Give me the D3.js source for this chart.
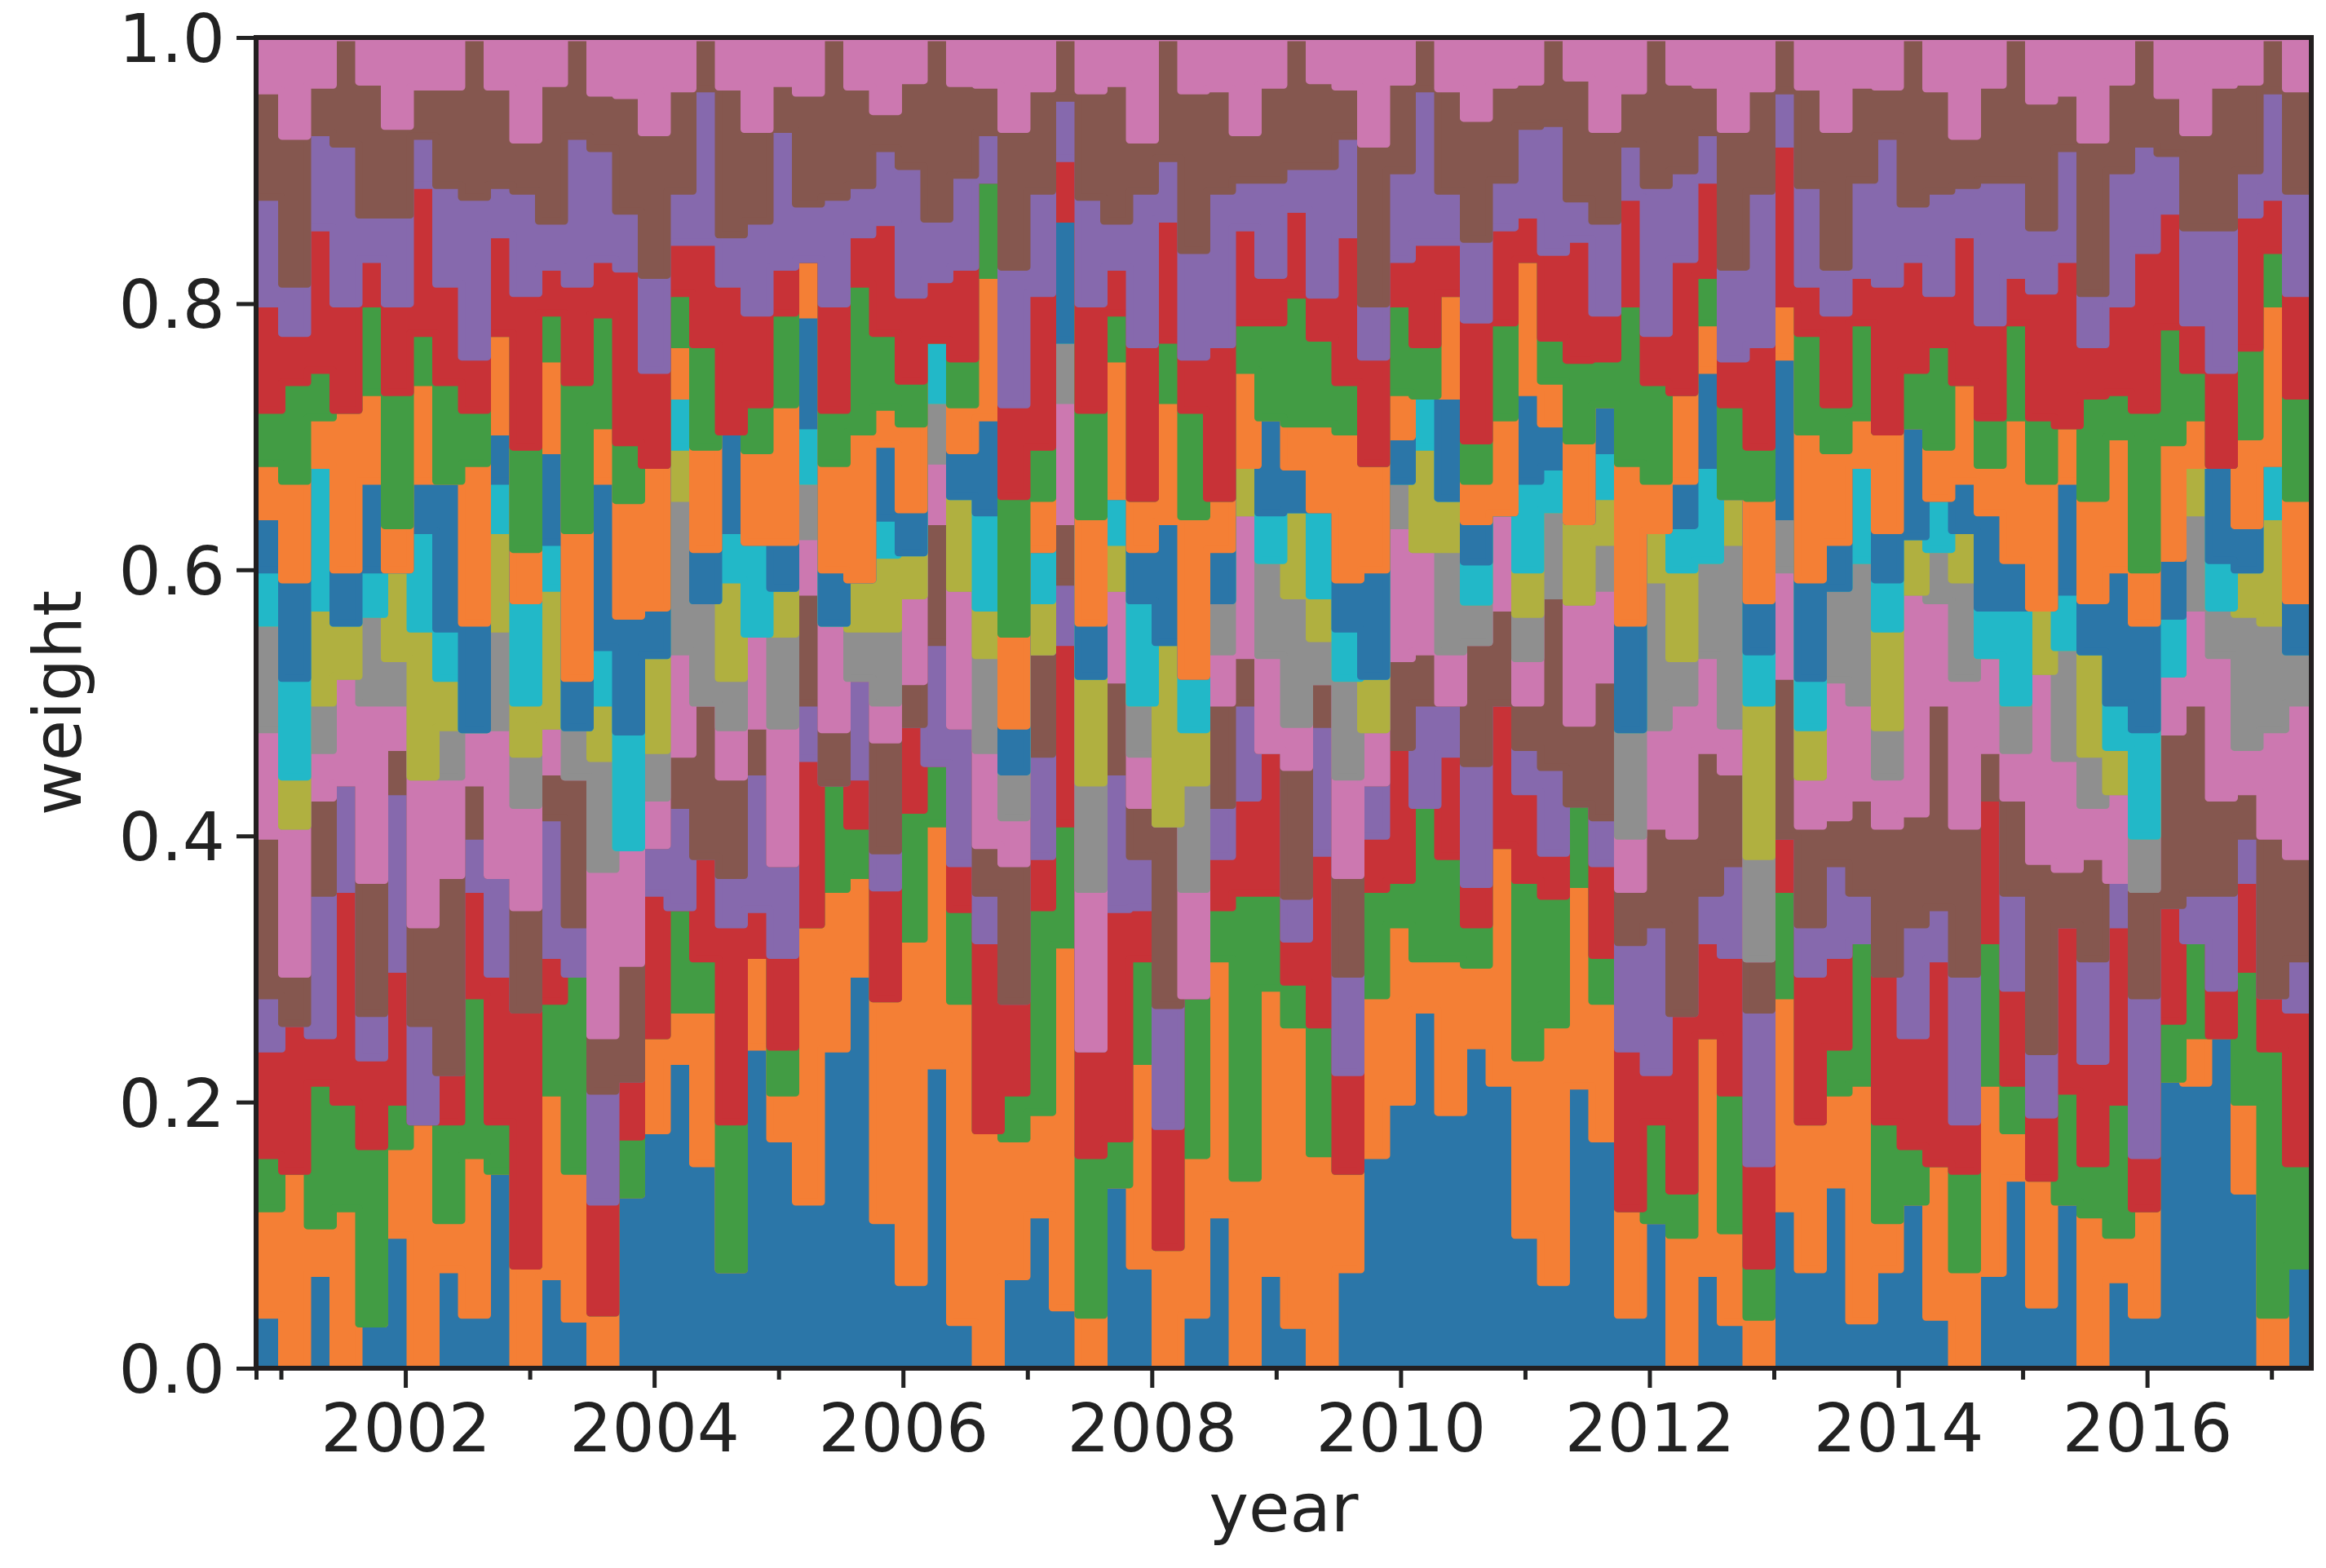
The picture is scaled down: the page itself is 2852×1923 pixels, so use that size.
<!DOCTYPE html>
<html>
<head>
<meta charset="utf-8">
<script src="https://cdn.jsdelivr.net/npm/d3@7"></script>
<style>
  body { margin: 0; background: #fff; }
  text { font-family: "DejaVu Sans", sans-serif; fill: #222; }
</style>
</head>
<body>
<div class="chart"></div>
<script>
// time range in decimal years, one column per step
const startYear = 2000.8, endYear = 2017.32;
const yTicks = [0, 0.2, 0.4, 0.6, 0.8, 1.0];
const majorYears = [2002, 2004, 2006, 2008, 2010, 2012, 2014, 2016];
const minorYears = [2001, 2003, 2005, 2007, 2009, 2011, 2013, 2015, 2017];
const colors = ["#2b76a8","#f47f35","#429c44","#c83237","#8669ad","#85574f","#cc78b0",
  "#8f8f8f","#b0b040","#22b8c8","#2b76a8","#f47f35","#429c44","#c83237","#8669ad","#85574f","#cc78b0"];

// rough weights per column (relative, normalised per column)
const s0  = [1,0,2,0,1,3,0,2,1,4,0,2,1,0,3,5,6,4,2,7,5,3,6,8,4,2,5,1,0,2,3,1,0,4,2,0,1,3,0,2,1,0,2,4,6,7,5,8,6,3,2,7,5,1,3,0,2,1,0,3,2,4,1,2,3,1,0,2,4,1,3,0,2,1,5,6,7,4,0,2];
const s1  = [2,4,1,3,0,2,5,1,3,0,2,4,3,1,0,2,1,3,0,2,1,5,3,2,6,8,4,7,5,3,2,6,1,0,4,2,3,5,4,6,7,5,2,3,4,1,3,2,5,4,6,5,3,2,0,3,5,2,1,4,3,2,5,1,0,3,2,4,1,2,0,3,1,2,0,1,0,2,1,0];
const s2  = [1,0,3,2,4,1,0,2,3,1,0,2,4,0,1,0,2,1,3,0,1,0,2,1,0,3,1,2,0,1,4,2,3,1,2,0,3,1,6,2,1,3,0,2,1,3,2,1,0,4,3,2,1,0,2,1,0,3,1,2,0,1,3,2,1,0,2,3,1,0,2,1,3,0,1,2,0,3,5,2];
const s3  = [2,3,1,4,2,3,0,1,2,3,5,1,0,2,1,3,0,2,4,1,2,3,0,1,3,2,0,1,4,2,1,3,2,5,1,2,0,1,2,3,1,4,2,1,3,0,2,1,3,2,1,0,2,3,1,4,2,3,2,1,3,2,0,3,2,4,1,3,2,1,3,2,4,1,2,0,1,2,1,3];
const s4  = [1,0,3,2,1,4,2,0,1,2,0,3,1,2,0,1,2,0,1,3,2,1,0,2,1,0,2,3,1,0,2,1,0,3,1,2,0,1,2,0,1,3,2,1,0,2,1,3,0,1,2,0,1,2,3,0,1,2,3,0,1,2,1,0,2,1,3,0,2,1,0,2,1,3,0,1,2,1,0,1];
const s5  = [3,1,2,0,3,1,2,4,1,0,2,1,3,1,2,0,1,3,2,1,0,2,1,0,3,1,2,0,1,3,2,1,0,2,1,3,0,2,1,0,3,1,2,0,2,1,0,3,2,1,4,2,3,1,2,4,3,2,1,3,2,1,2,3,2,4,3,1,2,3,1,2,0,2,3,4,2,1,3,2];
const s6  = [2,3,1,2,4,1,3,2,1,3,2,1,0,3,2,1,2,0,1,2,3,1,2,0,1,2,1,3,2,1,0,2,3,2,1,0,2,1,3,2,1,0,2,1,3,2,1,0,2,1,0,3,2,1,2,3,2,1,0,2,1,3,2,1,4,2,3,2,1,3,2,1,2,0,1,2,3,1,2,3];
const s7  = [2,0,1,0,2,1,0,1,0,2,1,0,1,2,0,1,3,2,1,0,2,1,0,1,2,0,1,0,2,1,0,1,2,0,1,0,2,1,0,2,3,1,2,0,1,0,2,1,0,1,2,0,1,2,3,1,2,4,2,1,0,2,3,1,0,1,2,0,1,0,2,1,0,1,0,2,1,3,2,1];
const s8  = [0,1,2,1,0,2,3,1,0,2,1,3,0,1,0,2,1,0,2,0,1,0,0,1,2,1,0,2,1,0,1,0,2,1,0,3,1,0,1,0,2,1,0,1,0,2,1,0,0,1,0,2,1,0,1,2,0,1,3,0,1,0,0,2,1,0,1,0,0,1,0,2,1,0,0,1,0,1,2,0];
const s9  = [1,2,3,0,1,0,2,1,0,1,2,1,0,1,2,0,1,0,1,2,0,1,0,0,1,0,1,0,2,0,1,0,0,1,2,0,1,0,0,1,0,2,1,0,0,1,0,1,0,2,1,0,1,0,0,1,2,0,1,0,1,0,2,1,0,1,0,1,2,0,1,0,1,2,1,0,1,0,1,0];
const s10 = [1,2,0,1,2,0,1,3,2,1,0,2,1,3,2,1,0,1,2,0,1,2,1,0,2,1,0,1,2,1,0,2,1,0,1,2,0,1,0,2,1,0,1,2,1,0,2,1,0,2,1,0,1,2,0,1,2,0,1,3,2,1,0,1,2,0,1,2,1,0,2,1,3,2,1,0,2,1,0,1];
const s11 = [1,2,1,3,2,1,2,0,3,2,1,2,3,1,2,3,1,2,0,2,3,1,2,3,1,2,0,1,3,2,1,0,2,3,1,2,3,1,2,0,1,2,3,2,1,0,2,1,2,3,1,2,0,3,1,2,1,0,2,1,3,2,1,2,0,1,2,1,3,2,1,2,3,1,2,1,0,2,3,2];
const s12 = [1,2,1,0,2,3,1,2,1,0,2,1,3,2,1,0,1,2,0,1,2,0,1,3,2,1,0,1,2,3,1,0,2,1,0,1,2,0,1,2,3,2,1,0,2,1,0,1,2,0,1,2,1,3,2,0,1,2,1,0,2,1,2,0,1,2,0,1,2,1,0,2,1,3,2,1,0,2,1,2];
const s13 = [2,1,3,2,1,2,3,2,1,2,3,1,2,1,3,2,1,2,3,2,1,0,2,1,3,2,1,2,0,2,3,1,2,1,3,2,1,3,2,1,2,1,3,2,1,2,1,3,2,1,2,3,1,2,1,3,2,1,2,3,1,2,1,3,2,1,3,2,1,2,3,1,2,3,2,1,2,3,1,2];
const s14 = [2,1,2,3,1,2,1,2,3,1,2,1,3,2,1,2,1,3,1,2,3,1,2,1,2,3,1,2,1,3,2,1,2,1,3,1,2,3,1,2,1,3,2,1,2,3,1,2,1,2,3,1,2,1,3,2,1,2,3,1,2,1,2,3,1,2,1,3,2,1,2,1,3,2,1,2,3,1,2,2];
const s15 = [2,3,1,2,3,2,1,2,3,2,1,3,2,1,2,3,2,1,3,2,1,2,3,2,1,2,3,2,1,3,2,1,2,3,1,2,3,2,1,2,3,2,1,3,2,1,2,3,2,1,2,3,2,1,3,2,1,3,2,1,2,3,2,1,3,2,1,2,3,2,1,3,2,2,1,2,3,2,1,2];
const s16 = [1,2,1,0,1,2,1,1,0,1,2,1,0,1,1,2,1,0,1,2,1,1,0,1,2,1,0,1,1,2,1,0,1,1,2,0,1,1,2,1,0,1,1,2,1,0,1,2,1,1,0,1,2,1,0,1,1,2,1,0,1,2,1,1,0,1,2,1,0,1,1,2,1,0,1,2,1,1,0,1];
const series = [s0,s1,s2,s3,s4,s5,s6,s7,s8,s9,s10,s11,s12,s13,s14,s15,s16];

const W = 2852, H = 1923;
const margin = {top: 46, right: 18, bottom: 245, left: 314};
const width = W - margin.left - margin.right, height = H - margin.top - margin.bottom;

const n = d3.min(series, s => s.length);
const step = (endYear - startYear) / n;
const rows = d3.range(n + 1).map(i => {
  const r = {t: startYear + i * step};
  const j = Math.min(i, n - 1);
  series.forEach((s, k) => r["k" + k] = s[j]);
  return r;
});
const keys = series.map((s, k) => "k" + k);
const stacked = d3.stack().keys(keys).offset(d3.stackOffsetExpand)(rows);

const x = d3.scaleLinear().domain([startYear, endYear]).range([0, width]);
const y = d3.scaleLinear().domain([0, 1]).range([height, 0]);

const svg = d3.select(".chart").append("svg")
  .attr("width", W).attr("height", H)
  .append("g").attr("transform", "translate(" + margin.left + "," + margin.top + ")");

svg.append("clipPath").attr("id", "clip").append("rect").attr("width", width).attr("height", height);

const area = d3.area().curve(d3.curveStepAfter)
  .x(d => x(d.data.t)).y0(d => y(d[0])).y1(d => y(d[1]));

svg.append("g").attr("clip-path", "url(#clip)")
  .selectAll("path").data(stacked).enter().append("path")
  .attr("d", area)
  .attr("fill", (d, i) => colors[i])
  .attr("stroke", (d, i) => colors[i])
  .attr("stroke-width", 9)
  .attr("stroke-linejoin", "round");

// axes
svg.append("g").attr("transform", "translate(0," + height + ")")
  .call(d3.axisBottom(x).tickValues(majorYears).tickFormat(d3.format("d")).tickSize(24).tickPadding(20));
svg.append("g").attr("transform", "translate(0," + height + ")")
  .call(d3.axisBottom(x).tickValues(minorYears.concat([startYear])).tickFormat("").tickSize(14));
const yAxis = svg.append("g")
  .call(d3.axisLeft(y).tickValues(yTicks).tickFormat(d3.format(".1f")).tickSize(24).tickPadding(14));

svg.selectAll(".tick line").attr("stroke", "#222").attr("stroke-width", 5);
svg.selectAll(".domain").remove();
svg.selectAll(".tick text").style("font-size", "82px").attr("fill", "#222");
yAxis.selectAll(".tick text").attr("dy", "0.36em");

svg.append("rect").attr("width", width).attr("height", height)
  .attr("fill", "none").attr("stroke", "#231f20").attr("stroke-width", 6);

svg.append("text").attr("x", width / 2).attr("y", height + 200)
  .attr("text-anchor", "middle").style("font-size", "82px").text("year");
svg.append("text").attr("transform", "rotate(-90)")
  .attr("x", -height / 2).attr("y", -215)
  .attr("text-anchor", "middle").style("font-size", "82px").text("weight");
</script>
</body>
</html>
